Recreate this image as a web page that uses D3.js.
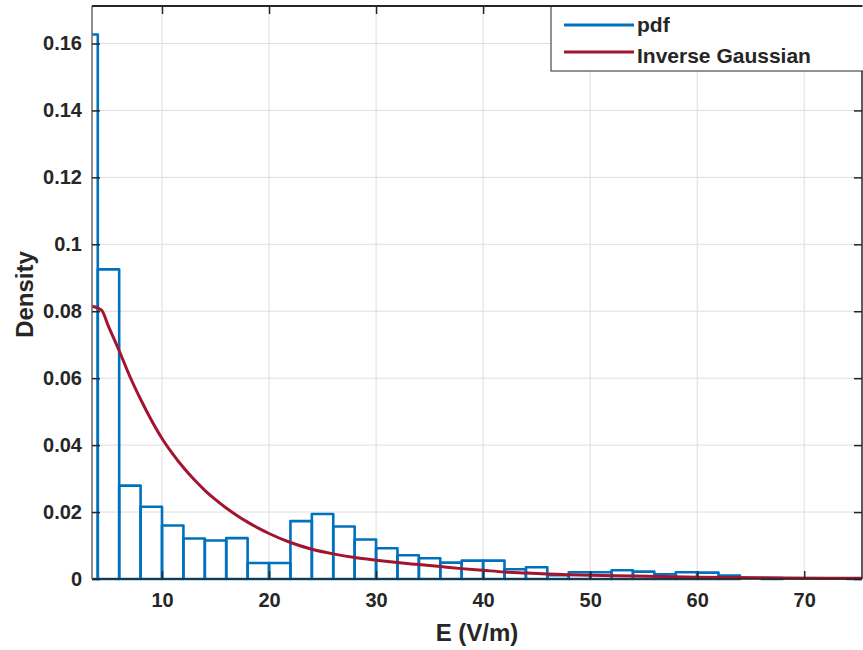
<!DOCTYPE html>
<html>
<head>
<meta charset="utf-8">
<script src="https://cdn.jsdelivr.net/npm/d3@7"></script>
<style>
  html, body { margin: 0; padding: 0; background: #fff; }
  svg { display: block; }
  text { font-family: "Liberation Sans", Arial, Helvetica, sans-serif; font-weight: bold; fill: #262626; }
</style>
</head>
<body>
<svg id="chart" width="863" height="650"></svg>
<script>
// ---------- data ----------
const binStart = 2;
const binWidth = 2;
const pdfValues = [
  0.1627, 0.0925, 0.0279, 0.0216, 0.0160, 0.0121, 0.0115, 0.0122, 0.0048, 0.0048,
  0.0173, 0.0194, 0.0157, 0.0118, 0.0092, 0.0071, 0.0062, 0.0049, 0.0055, 0.0055,
  0.0029, 0.0035, 0.0011, 0.0020, 0.0020, 0.0026, 0.0022, 0.0014, 0.0020, 0.0019,
  0.0010, 0.0000, 0.0003, 0.0000, 0.0000, 0.0000, 0.0002
];
const igX = [3.48, 4.35, 5, 6, 7, 8, 9, 10, 11, 12, 13, 14, 15, 16, 17, 18, 19, 20, 22, 24, 26, 28, 30, 32,
  34, 36, 38, 40, 42, 44, 46, 50, 54, 60, 68, 75.4];
const igY = [0.0815, 0.0803, 0.0755, 0.0682, 0.0605, 0.0537, 0.0475, 0.0420, 0.0374, 0.0333, 0.0297,
  0.0265, 0.0237, 0.0212, 0.0190, 0.0170, 0.0152, 0.0136, 0.0109, 0.0089, 0.0075, 0.0064, 0.0056, 0.0049,
  0.0043, 0.0037, 0.0031, 0.0026, 0.0021, 0.0018, 0.0015, 0.0011, 0.0009, 0.0005, 0.0003, 0.0002];
const xTicks = [10, 20, 30, 40, 50, 60, 70];
const yTicks = [0, 0.02, 0.04, 0.06, 0.08, 0.1, 0.12, 0.14, 0.16];
const yTickLabels = ["0", "0.02", "0.04", "0.06", "0.08", "0.1", "0.12", "0.14", "0.16"];
const xLabel = "E (V/m)";
const yLabel = "Density";
const legendLabels = ["pdf", "Inverse Gaussian"];
const xDomain = [3.46, 75.4];
const yDomain = [0, 0.1712];

// ---------- layout ----------
const L = 92, R = 862, T = 6, B = 579;
const blue = "#0072BD", red = "#A2142F", axisCol = "#262626", gridCol = "#dedede";

const svg = d3.select("#chart");
svg.append("rect").attr("width", 863).attr("height", 650).attr("fill", "#fff");

const x = d3.scaleLinear().domain(xDomain).range([L, R]);
const y = d3.scaleLinear().domain(yDomain).range([B, T]);

svg.append("defs").append("clipPath").attr("id", "clip")
  .append("rect").attr("x", L).attr("y", T - 3).attr("width", R - L).attr("height", B - T + 6);

// grid
const grid = svg.append("g");
grid.selectAll(".gx").data(xTicks).join("line")
  .attr("x1", d => x(d)).attr("x2", d => x(d)).attr("y1", T).attr("y2", B)
  .attr("stroke", gridCol).attr("stroke-width", 1);
grid.selectAll(".gy").data(yTicks.filter(d => d > 0)).join("line")
  .attr("x1", L).attr("x2", R).attr("y1", d => y(d)).attr("y2", d => y(d))
  .attr("stroke", gridCol).attr("stroke-width", 1);

// histogram bars (outlined)
const bins = pdfValues.map((v, i) => ({ x0: binStart + i * binWidth, x1: binStart + (i + 1) * binWidth, v }));
const plot = svg.append("g").attr("clip-path", "url(#clip)");
plot.selectAll("rect.bar").data(bins).join("rect").attr("class", "bar")
  .attr("x", d => x(d.x0)).attr("width", d => x(d.x1) - x(d.x0))
  .attr("y", d => y(d.v)).attr("height", d => y(0) - y(d.v))
  .attr("fill", "none").attr("stroke", blue).attr("stroke-width", 2.6)
  .attr("stroke-linejoin", "round");

// inverse gaussian curve
const pts = igX.map((xv, i) => [xv, igY[i]]);
plot.append("path").datum(pts)
  .attr("d", d3.line().x(d => x(d[0])).y(d => y(d[1])).curve(d3.curveMonotoneX))
  .attr("fill", "none").attr("stroke", red).attr("stroke-width", 3);

// axes box
svg.append("line").attr("x1", L).attr("x2", R).attr("y1", B).attr("y2", B).attr("stroke", axisCol).attr("stroke-width", 1.5);
svg.append("line").attr("x1", L).attr("x2", L).attr("y1", T).attr("y2", B).attr("stroke", "#6a6a6a").attr("stroke-width", 1.5);
svg.append("line").attr("x1", R).attr("x2", R).attr("y1", T).attr("y2", B).attr("stroke", axisCol).attr("stroke-width", 1.5);

// axes via d3
const xAxisB = d3.axisBottom(x).tickValues(xTicks).tickSize(-8).tickPadding(14).tickFormat(d3.format("d"));
const gxb = svg.append("g").attr("transform", `translate(0,${B})`).call(xAxisB);
gxb.select(".domain").remove();
gxb.selectAll("line").attr("stroke", axisCol).attr("stroke-width", 1.5);
gxb.selectAll("text").attr("font-size", 20).attr("fill", axisCol)
  .style("font-family", '"Liberation Sans", Arial, sans-serif').style("font-weight", "bold");

const xAxisT = d3.axisTop(x).tickValues(xTicks).tickSize(-8).tickFormat("");
const gxt = svg.append("g").attr("transform", `translate(0,${T})`).call(xAxisT);
gxt.select(".domain").remove();
gxt.selectAll("line").attr("stroke", axisCol).attr("stroke-width", 1.5);

const yAxisL = d3.axisLeft(y).tickValues(yTicks).tickSize(-8).tickPadding(10)
  .tickFormat((d, i) => yTickLabels[i]);
const gyl = svg.append("g").attr("transform", `translate(${L},0)`).call(yAxisL);
gyl.select(".domain").remove();
gyl.selectAll("line").attr("stroke", axisCol).attr("stroke-width", 1.5);
gyl.selectAll("text").attr("font-size", 20).attr("fill", axisCol)
  .style("font-family", '"Liberation Sans", Arial, sans-serif').style("font-weight", "bold");

const yAxisR = d3.axisRight(y).tickValues(yTicks).tickSize(-8).tickFormat("");
const gyr = svg.append("g").attr("transform", `translate(${R},0)`).call(yAxisR);
gyr.select(".domain").remove();
gyr.selectAll("line").attr("stroke", axisCol).attr("stroke-width", 1.5);

// axis labels
svg.append("text").attr("x", (L + R) / 2).attr("y", 641).attr("text-anchor", "middle")
  .attr("font-size", 24).text(xLabel);
svg.append("text").attr("transform", `translate(33,${(T + B) / 2 + 2}) rotate(-90)`)
  .attr("text-anchor", "middle").attr("font-size", 24).text(yLabel);

// legend
const lg = svg.append("g");
lg.append("rect").attr("x", 551).attr("y", 6).attr("width", 340).attr("height", 65)
  .attr("fill", "#fff").attr("stroke", axisCol).attr("stroke-width", 1);
const legendColors = [blue, red];
const legendLineY = [25, 52];
const legendTextY = [32, 63];
legendLabels.forEach((lab, i) => {
  lg.append("line").attr("x1", 564).attr("x2", 634).attr("y1", legendLineY[i]).attr("y2", legendLineY[i])
    .attr("stroke", legendColors[i]).attr("stroke-width", 3);
  lg.append("text").attr("x", 637).attr("y", legendTextY[i]).attr("font-size", 21).text(lab);
});
// top border over legend
svg.append("line").attr("x1", L).attr("x2", R).attr("y1", T).attr("y2", T).attr("stroke", axisCol).attr("stroke-width", 2);
</script>
</body>
</html>
